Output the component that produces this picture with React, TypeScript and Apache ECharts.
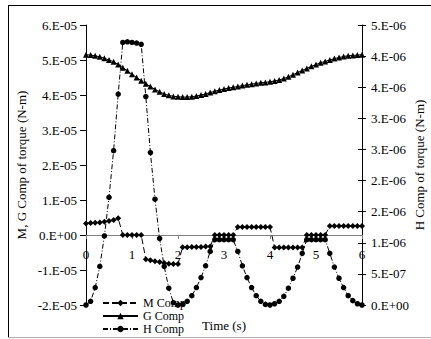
import React, { useEffect, useRef } from "react";
import * as echarts from "echarts";

// Time (s)
const time = [
  0.0, 0.1, 0.2, 0.3, 0.4, 0.5, 0.6, 0.7, 0.8, 0.9,
  1.0, 1.1, 1.2, 1.3, 1.4, 1.5, 1.6, 1.7, 1.8, 1.9,
  2.0, 2.1, 2.2, 2.3, 2.4, 2.5, 2.6, 2.7, 2.8, 2.9,
  3.0, 3.1, 3.2, 3.3, 3.4, 3.5, 3.6, 3.7, 3.8, 3.9,
  4.0, 4.1, 4.2, 4.3, 4.4, 4.5, 4.6, 4.7, 4.8, 4.9,
  5.0, 5.1, 5.2, 5.3, 5.4, 5.5, 5.6, 5.7, 5.8, 5.9,
  6.0,
];

// M Comp of torque (x 1e-5 N-m)
const mComp = [
  0.33, 0.34, 0.35, 0.36, 0.38, 0.40, 0.43, 0.48,
  0, 0, 0, 0, 0,
  -0.69, -0.72, -0.75, -0.77, -0.80, -0.82, -0.83, -0.83,
  -0.35, -0.35, -0.34, -0.34, -0.34, -0.33, -0.33,
  0, 0, 0, 0, 0,
  0.23, 0.23, 0.23, 0.23, 0.23, 0.23, 0.23, 0.23,
  -0.36, -0.36, -0.36, -0.36, -0.36, -0.36, -0.36,
  0, 0, 0, 0, 0,
  0.26, 0.26, 0.26, 0.26, 0.26, 0.26, 0.26, 0.26,
];

// G Comp of torque (x 1e-5 N-m)
const gComp = [
  5.15, 5.14, 5.12, 5.09, 5.05, 5.00, 4.95, 4.87, 4.78, 4.69,
  4.59, 4.50, 4.41, 4.32, 4.24, 4.16, 4.09, 4.03, 3.99, 3.96,
  3.95, 3.94, 3.94, 3.95, 3.97, 4.00, 4.03, 4.07, 4.11, 4.14,
  4.17, 4.20, 4.22, 4.24, 4.27, 4.29, 4.31, 4.33, 4.35, 4.36,
  4.38, 4.40, 4.43, 4.47, 4.52, 4.58, 4.64, 4.70, 4.76, 4.82,
  4.87, 4.92, 4.96, 5.00, 5.04, 5.07, 5.10, 5.12, 5.13, 5.14,
  5.15,
];

// H Comp of torque (x 1e-6 N-m)
const hComp = [
  0, 0.06, 0.28, 0.62, 1.11, 1.73, 2.48, 3.39, 4.22, 4.23,
  4.22, 4.21, 4.19, 3.35, 2.45, 1.70, 1.07, 0.62, 0.27, 0.04,
  0, 0.01, 0.06, 0.15, 0.28, 0.44, 0.63, 0.86, 1.05, 1.05,
  1.05, 1.05, 1.05, 0.86, 0.63, 0.44, 0.28, 0.15, 0.06, 0.01,
  0, 0.02, 0.06, 0.14, 0.27, 0.43, 0.61, 0.83, 1.05, 1.05,
  1.05, 1.05, 1.05, 0.83, 0.61, 0.43, 0.28, 0.15, 0.07, 0.02,
  0,
];

const seriesNames = ["M Comp", "G Comp", "H Comp"];
const xTicks = [0, 1, 2, 3, 4, 5, 6];

const FONT = "'Liberation Serif', 'Times New Roman', serif";

const leftFmt = (v: number) =>
  Math.abs(v) < 1e-9 ? "0.E+00" : `${Math.round(v)}.E-05`;
const rightFmt = (v: number) => {
  if (Math.abs(v) < 1e-9) return "0.E+00";
  if (v < 0.99) return `${Math.round(v * 10)}.E-07`;
  return `${Math.floor(v + 0.5 + 1e-9)}.E-06`;
};

export default function App() {
  const ref = useRef<HTMLDivElement>(null);
  useEffect(() => {
    document.body.style.margin = "0";
    if (!ref.current) return;
    const chart = echarts.init(ref.current, null, { renderer: "svg" });
    const pair = (arr: number[]) => time.map((t, i) => [t, arr[i]]);
    const option: any = {
      animation: false,
      backgroundColor: "#ffffff",
      textStyle: { fontFamily: FONT, color: "#000" },
      grid: {
        left: 86,
        right: 69,
        top: 25,
        bottom: 34,
        containLabel: false,
        outerBoundsMode: "none",
      },
      legend: {
        orient: "vertical",
        left: 102,
        top: 297,
        itemWidth: 35,
        itemHeight: 8,
        itemGap: 1,
        padding: 0,
        data: seriesNames,
        textStyle: {
          fontFamily: FONT,
          fontSize: 12,
          lineHeight: 12,
          color: "#000",
        },
      },
      xAxis: {
        type: "value",
        position: "bottom",
        offset: -70,
        min: xTicks[0],
        max: xTicks[xTicks.length - 1],
        interval: 1,
        name: "Time (s)",
        nameLocation: "middle",
        nameGap: 84,
        nameMoveOverlap: false,
        nameTextStyle: { fontFamily: FONT, fontSize: 13, color: "#000" },
        axisLine: {
          onZero: false,
          lineStyle: { color: "#808080", width: 1 },
        },
        axisTick: {
          show: true,
          inside: false,
          length: 4,
          lineStyle: { color: "#808080" },
        },
        axisLabel: {
          fontFamily: FONT,
          fontSize: 13,
          color: "#000",
          margin: 13,
        },
        splitLine: { show: false },
      },
      yAxis: [
        {
          type: "value",
          position: "left",
          min: -2,
          max: 6,
          interval: 1,
          name: "M, G Comp of torque (N-m)",
          nameLocation: "middle",
          nameRotate: 90,
          nameGap: 58,
          nameMoveOverlap: false,
          nameTextStyle: { fontFamily: FONT, fontSize: 13, color: "#000" },
          axisLine: { show: true, lineStyle: { color: "#000", width: 1 } },
          axisTick: { show: true, length: 6, lineStyle: { color: "#000" } },
          axisLabel: {
            fontFamily: FONT,
            fontSize: 13,
            color: "#000",
            margin: 9,
            formatter: leftFmt,
          },
          splitLine: { show: false },
        },
        {
          type: "value",
          position: "right",
          min: 0,
          max: 4.5,
          interval: 0.5,
          name: "H Comp of torque (N-m)",
          nameLocation: "middle",
          nameRotate: 90,
          nameGap: 51,
          nameMoveOverlap: false,
          nameTextStyle: { fontFamily: FONT, fontSize: 13, color: "#000" },
          axisLine: { show: true, lineStyle: { color: "#000", width: 1 } },
          axisTick: { show: true, length: 4, lineStyle: { color: "#000" } },
          axisLabel: {
            fontFamily: FONT,
            fontSize: 13,
            color: "#000",
            margin: 9,
            formatter: rightFmt,
          },
          splitLine: { show: false },
        },
        {
          type: "value",
          position: "right",
          min: 0,
          max: 4.5,
          interval: 0.5,
          axisLine: { show: false },
          axisTick: {
            show: true,
            inside: true,
            length: 4,
            lineStyle: { color: "#000" },
          },
          axisLabel: { show: false },
          splitLine: { show: false },
        },
      ],
      series: [
        {
          name: seriesNames[0],
          type: "line",
          yAxisIndex: 0,
          data: pair(mComp),
          symbol: "diamond",
          symbolSize: 6,
          itemStyle: { color: "#000" },
          lineStyle: { color: "#000", width: 1, type: [6, 3] },
        },
        {
          name: seriesNames[1],
          type: "line",
          yAxisIndex: 0,
          data: pair(gComp),
          symbol: "triangle",
          symbolSize: 6,
          itemStyle: { color: "#000" },
          lineStyle: { color: "#000", width: 1, type: "solid" },
        },
        {
          name: seriesNames[2],
          type: "line",
          yAxisIndex: 1,
          data: pair(hComp),
          symbol: "circle",
          symbolSize: 5.5,
          itemStyle: { color: "#000" },
          lineStyle: { color: "#000", width: 1, type: [5, 2, 1, 2] },
        },
      ],
      graphic: [
        {
          type: "line",
          shape: { x1: 8, y1: 5.5, x2: 431, y2: 5.5 },
          style: { stroke: "#000", lineWidth: 1 },
          silent: true,
        },
        {
          type: "line",
          shape: { x1: 8.5, y1: 5, x2: 8.5, y2: 337 },
          style: { stroke: "#000", lineWidth: 1 },
          silent: true,
        },
        {
          type: "line",
          shape: { x1: 8, y1: 337.5, x2: 431, y2: 337.5 },
          style: { stroke: "#b0b0b0", lineWidth: 1 },
          silent: true,
        },
      ],
    };
    chart.setOption(option);
    return () => chart.dispose();
  }, []);
  return <div ref={ref} style={{ width: 431, height: 339 }} />;
}
